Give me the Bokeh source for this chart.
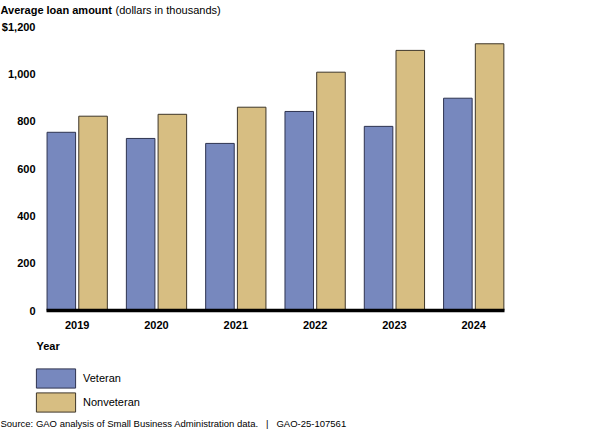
from bokeh.plotting import figure
from bokeh.models import (ColumnDataSource, Range1d, FixedTicker, Label,
                          Legend, LegendItem, LinearAxis)
from bokeh.embed import file_html
from bokeh.resources import INLINE

years = ["2019", "2020", "2021", "2022", "2023", "2024"]
veteran = [753, 727, 706, 841, 778, 897]
nonveteran = [821, 829, 859, 1007, 1099, 1127]
y_ticks = [0, 200, 400, 600, 800, 1000, 1200]
y_tick_labels = ["0", "200", "400", "600", "800", "1,000", "$1,200"]

FONT = "Liberation Sans"
V_FILL, V_LINE = "#7788BE", "#2E3350"
N_FILL, N_LINE = "#D7BE82", "#3E3628"

W, H = 600, 430
# chart area (pixels inside the canvas)
CL, CR = 46, 504             # left / right edge of chart area
Y1200_PX, Y0_PX = 26, 310.0  # pixel rows of 1,200 and 0
X_LO, X_HI = -0.387, 5.388   # category units visible in the chart area

upp_x = (X_HI - X_LO) / (CR - CL)
upp_y = 1200 / (Y0_PX - Y1200_PX)
x_range = Range1d(X_LO - CL * upp_x, X_HI + (W - CR) * upp_x)
y_range = Range1d(-(H - Y0_PX) * upp_y, 1200 + Y1200_PX * upp_y)

xs = list(range(len(years)))
src = ColumnDataSource(dict(
    xv=[i - 0.2 for i in xs], xn=[i + 0.2 for i in xs],
    vet=veteran, nonvet=nonveteran))

p = figure(width=W, height=H, output_backend="svg", toolbar_location=None,
           x_range=x_range, y_range=y_range,
           x_axis_location=None, y_axis_location=None,
           min_border=0, min_border_left=0, min_border_right=0,
           min_border_top=0, min_border_bottom=0)
p.outline_line_color = None
p.grid.visible = False
p.background_fill_color = "white"
p.border_fill_color = "white"

rv = p.vbar(x="xv", top="vet", bottom=0, width=0.36, source=src,
            fill_color=V_FILL, line_color=V_LINE, line_width=1)
rn = p.vbar(x="xn", top="nonvet", bottom=0, width=0.36, source=src,
            fill_color=N_FILL, line_color=N_LINE, line_width=1)

# thick baseline at zero across the chart area
p.segment(x0=[X_LO], y0=[0], x1=[X_HI], y1=[0], line_color="black",
          line_width=3.5)

def style_axis(ax, standoff):
    ax.axis_line_color = None
    ax.major_tick_line_color = None
    ax.minor_tick_line_color = None
    ax.major_tick_out = 0
    ax.major_tick_in = 0
    ax.minor_tick_out = 0
    ax.minor_tick_in = 0
    ax.major_label_standoff = standoff
    ax.major_label_text_font = FONT
    ax.major_label_text_font_style = "bold"
    ax.major_label_text_font_size = "11px"
    ax.major_label_text_color = "black"

# axes (fixed inside the frame so they take no extra room)
ya = LinearAxis(fixed_location=X_LO, ticker=FixedTicker(ticks=y_ticks))
ya.major_label_overrides = {t: l for t, l in zip(y_ticks, y_tick_labels)}
style_axis(ya, 11)
p.add_layout(ya, "left")

xa = LinearAxis(fixed_location=0, ticker=FixedTicker(ticks=xs))
xa.major_label_overrides = {i: y for i, y in zip(xs, years)}
style_axis(xa, 10)
p.add_layout(xa, "below")

# texts (screen units: from the bottom-left corner of the frame = canvas)
def add_text(txt, x, y, style="normal", size="11px", baseline="alphabetic"):
    p.add_layout(Label(x=x, y=H - y, x_units="screen", y_units="screen",
                       text=txt, text_font=FONT, text_font_style=style,
                       text_font_size=size, text_color="black",
                       text_baseline=baseline, text_align="left"))

add_text("Average loan amount", 0, 9.6, style="bold")
add_text("(dollars in thousands)", 115, 9.6)
add_text("Year", 36, 345.7, style="bold", baseline="middle")
add_text("Source: GAO analysis of Small Business Administration data.\u00a0\u00a0\u00a0|\u00a0\u00a0\u00a0GAO-25-107561",
         0, 422.5, size="9.5px", baseline="middle")

legend = Legend(items=[LegendItem(label="Veteran", renderers=[rv]),
                       LegendItem(label="Nonveteran", renderers=[rn])],
                location=(31, 16), orientation="vertical",
                glyph_width=49, glyph_height=24, label_height=24,
                label_standoff=3, spacing=0, padding=0, margin=0,
                border_line_color=None, background_fill_alpha=0,
                label_text_font=FONT, label_text_font_size="11px",
                label_text_color="black")
p.add_layout(legend)

open("out.html", "w").write(file_html(p, INLINE))
